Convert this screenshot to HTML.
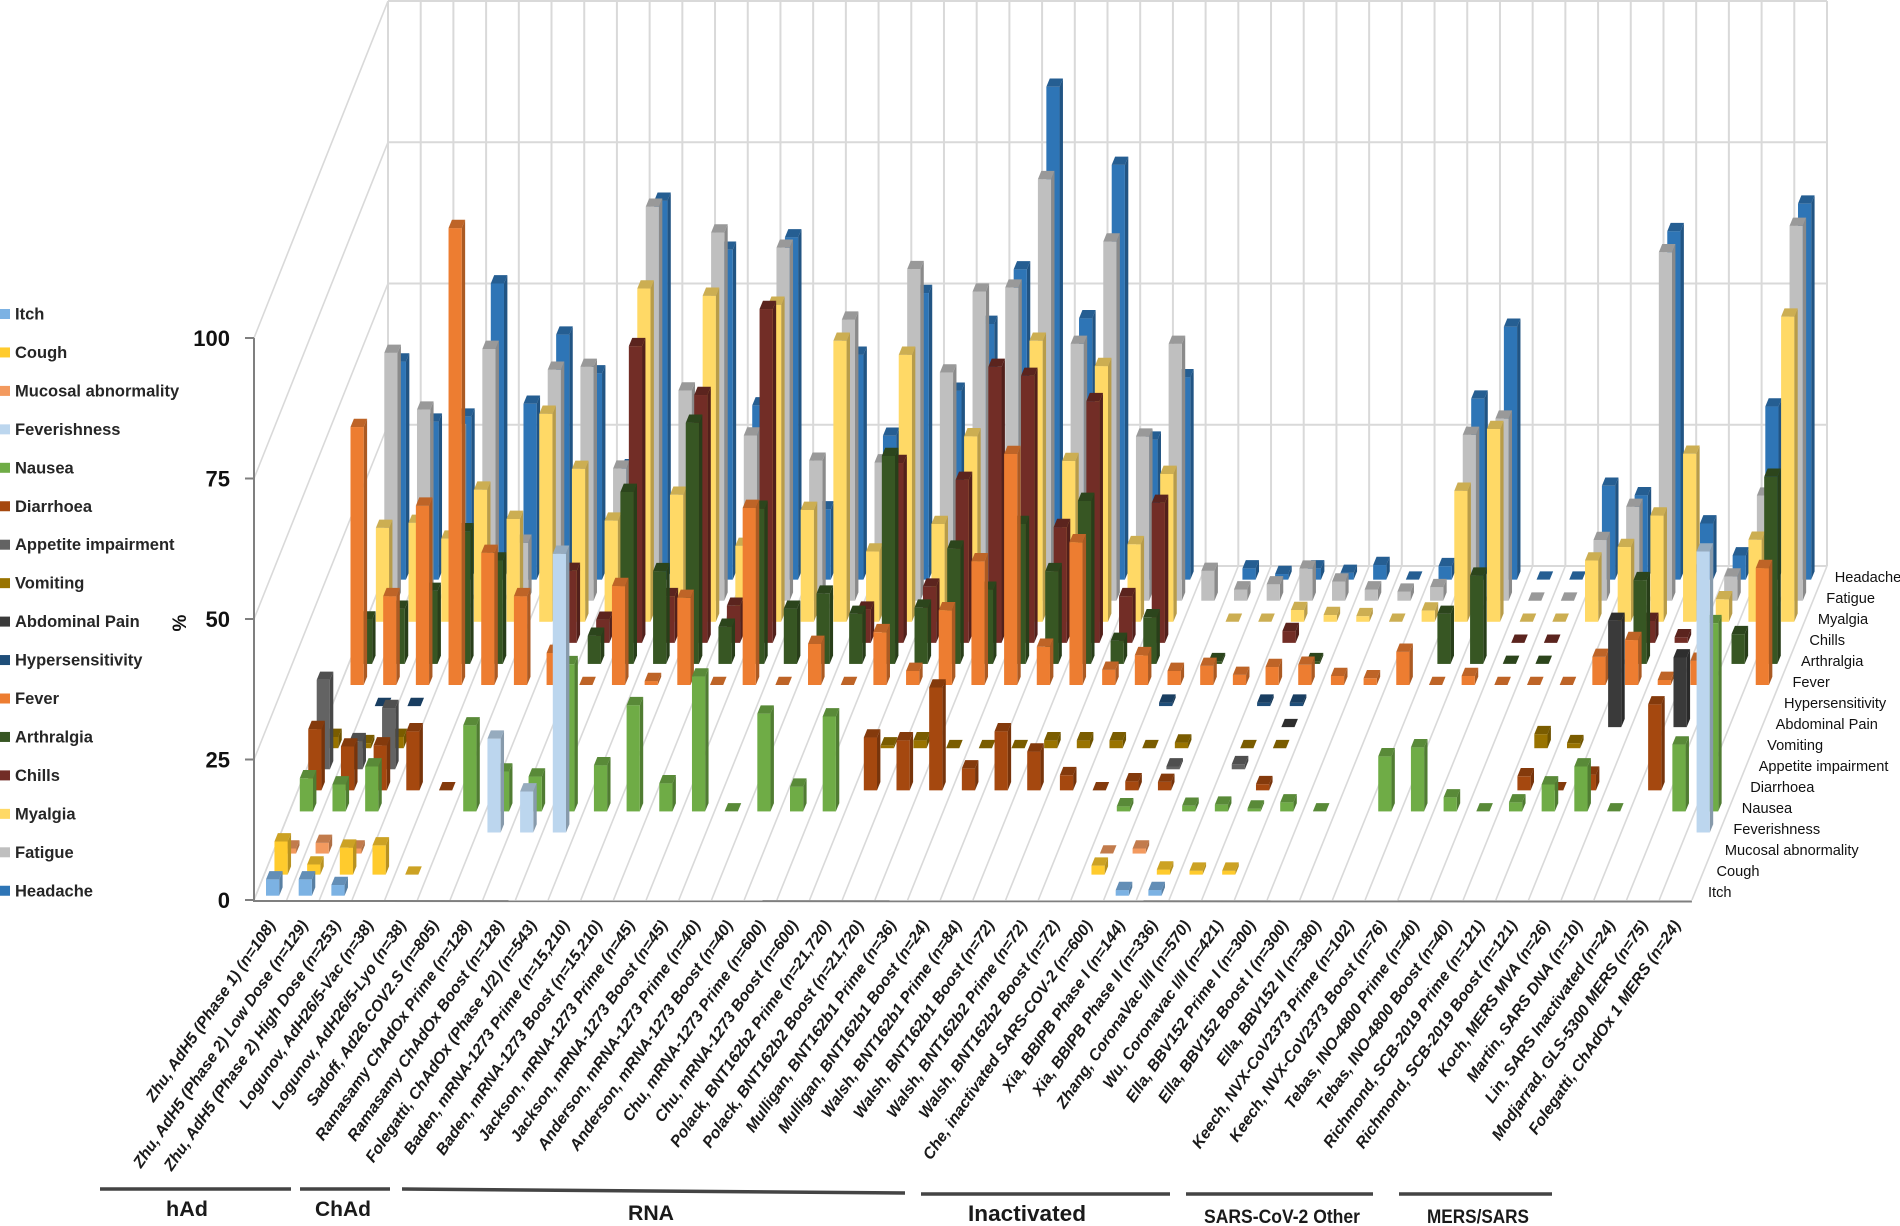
<!DOCTYPE html>
<html lang="en">
<head>
<meta charset="utf-8">
<title>Adverse events by vaccine study</title>
<style>
  html, body { margin: 0; padding: 0; background: #fff; width: 1900px; height: 1226px; overflow: hidden; }
  svg { display: block; font-family: "Liberation Sans", sans-serif; }
  .legend-text { font-size: 16.5px; font-weight: 700; fill: #262626; }
  .y-tick { font-size: 22px; font-weight: 700; fill: #111; text-anchor: end; }
  .depth-label { font-size: 14.6px; fill: #111; }
  .x-label { font-size: 16px; font-weight: 700; font-style: italic; fill: #1a1a1a; text-anchor: end; }
  .group-label { font-weight: 700; fill: #1a1a1a; text-anchor: middle; }
</style>
</head>
<body>
<svg id="chart" width="1900" height="1226" viewBox="0 0 1900 1226" xmlns="http://www.w3.org/2000/svg">
  <g id="walls"></g>
  <g id="bars"></g>
  <g id="axes"></g>
  <g id="legend"></g>
  <text transform="translate(186,623) rotate(-90)" text-anchor="middle" font-size="19" font-weight="700" fill="#111">%</text>

  <g>
    <line x1="100" y1="1189" x2="291" y2="1189" stroke="#444" stroke-width="3.5"/>
    <line x1="300" y1="1189" x2="390" y2="1189" stroke="#444" stroke-width="3.5"/>
    <line x1="402" y1="1189" x2="905" y2="1193" stroke="#444" stroke-width="3.5"/>
    <line x1="921" y1="1194" x2="1170" y2="1194" stroke="#444" stroke-width="3.5"/>
    <line x1="1186" y1="1194" x2="1373" y2="1194" stroke="#444" stroke-width="3.5"/>
    <line x1="1399" y1="1194" x2="1552" y2="1194" stroke="#444" stroke-width="3.5"/>
    <text class="group-label" x="187" y="1216" font-size="21" textLength="42" lengthAdjust="spacingAndGlyphs">hAd</text>
    <text class="group-label" x="343" y="1216" font-size="21" textLength="56" lengthAdjust="spacingAndGlyphs">ChAd</text>
    <text class="group-label" x="651" y="1220" font-size="21" textLength="46" lengthAdjust="spacingAndGlyphs">RNA</text>
    <text class="group-label" x="1027" y="1221" font-size="22" textLength="118" lengthAdjust="spacingAndGlyphs">Inactivated</text>
    <text class="group-label" x="1282" y="1223" font-size="19" textLength="156" lengthAdjust="spacingAndGlyphs">SARS-CoV-2 Other</text>
    <text class="group-label" x="1478" y="1223" font-size="19" textLength="102" lengthAdjust="spacingAndGlyphs">MERS/SARS</text>
  </g>
</svg>

<script>
const studies = [
  "Zhu, AdH5 (Phase 1) (n=108)","Zhu, AdH5 (Phase 2) Low Dose (n=129)","Zhu, AdH5 (Phase 2) High Dose (n=253)",
  "Logunov, AdH26/5-Vac (n=38)","Logunov, AdH26/5-Lyo (n=38)","Sadoff, Ad26.COV2.S (n=805)",
  "Ramasamy ChAdOx Prime (n=128)","Ramasamy ChAdOx Boost (n=128)","Folegatti, ChAdOx (Phase 1/2) (n=543)",
  "Baden, mRNA-1273 Prime (n=15,210)","Baden, mRNA-1273 Boost (n=15,210)","Jackson, mRNA-1273 Prime (n=45)",
  "Jackson, mRNA-1273 Boost (n=45)","Anderson, mRNA-1273 Prime (n=40)","Anderson, mRNA-1273 Boost (n=40)",
  "Chu, mRNA-1273 Prime (n=600)","Chu, mRNA-1273 Boost (n=600)","Polack, BNT162b2 Prime (n=21,720)",
  "Polack, BNT162b2 Boost (n=21,720)","Mulligan, BNT162b1 Prime (n=36)","Mulligan, BNT162b1 Boost (n=24)",
  "Walsh, BNT162b1 Prime (n=84)","Walsh, BNT162b1 Boost (n=72)","Walsh, BNT162b2 Prime (n=72)",
  "Walsh, BNT162b2 Boost (n=72)","Che, inactivated SARS-COV-2 (n=600)","Xia, BBIPB Phase I (n=144)",
  "Xia, BBIPB Phase II (n=336)","Zhang, CoronaVac I/II (n=570)","Wu, Coronavac I/II (n=421)",
  "Ella, BBV152 Prime I (n=300)","Ella, BBV152 Boost I (n=300)","Ella, BBV152 II (n=380)",
  "Keech, NVX-CoV2373 Prime (n=102)","Keech, NVX-CoV2373 Boost (n=76)","Tebas, INO-4800 Prime (n=40)",
  "Tebas, INO-4800 Boost (n=40)","Richmond, SCB-2019 Prime (n=121)","Richmond, SCB-2019 Boost (n=121)",
  "Koch, MERS MVA (n=26)","Martin, SARS DNA (n=10)","Lin, SARS Inactivated (n=24)",
  "Modjarrad, GLS-5300 MERS  (n=75)","Folegatti, ChAdOx 1 MERS (n=24)"
];
const seriesNames = ["Itch","Cough","Mucosal abnormality","Feverishness","Nausea","Diarrhoea","Appetite impairment","Vomiting","Abdominal Pain","Hypersensitivity","Fever","Arthralgia","Chills","Myalgia","Fatigue","Headache"];
const seriesColors = ["#7cb2e3","#ffcb2d","#f39a5f","#bcd6ee","#6fac46","#a5480f","#636363","#997300","#3a3a3a","#1f4e79","#ed7d31","#375623","#722d26","#ffd966","#bfbfbf","#2e75b6"];
const yTicks = [0,25,50,75,100];

const itch = [2.9,2.9,1.9,null,null,null,null,null,null,null,null,null,null,null,null,null,null,null,null,null,null,null,null,null,null,null,1,1,null,null,null,null,null,null,null,null,null,null,null,null,null,null,null,null];
const cough = [5.9,1.8,4.8,5.2,0,null,null,null,null,null,null,null,null,null,null,null,null,null,null,null,null,null,null,null,null,1.6,null,0.9,0.7,0.7,null,null,null,null,null,null,null,null,null,null,null,null,null,null];
const mucosal = [0.9,1.9,0.9,null,null,null,null,null,null,null,null,null,null,null,null,null,null,null,null,null,null,null,null,null,null,0,0.9,null,null,null,null,null,null,null,null,null,null,null,null,null,null,null,null,null];
const feverishness = [null,null,null,null,null,null,16.7,7.3,49.6,null,null,null,null,null,null,null,null,null,null,null,null,null,null,null,null,null,null,null,null,null,null,null,null,null,null,null,null,null,null,null,null,null,null,50];
const nausea = [5.9,4.8,8,null,null,15.3,7.1,6.2,26.2,8.2,18.9,5,24,0,17.4,4.4,16.9,null,null,null,null,null,null,null,null,0.9,null,1,1.2,0.5,1.6,0,null,9.8,11.4,2.5,0,1.6,4.8,8,0,null,11.9,33.5];
const diarrhoea = [10.9,7.8,8,10.5,0,null,null,null,null,null,null,null,null,null,null,null,null,9.4,8.9,18.3,3.9,10.5,6.9,2.7,0,1.6,1.5,null,null,1.1,null,null,null,null,null,null,null,2.5,0,2.8,null,15.3,null,null];
const appetite = [15.9,5,10.9,null,null,null,null,null,null,null,null,null,null,null,null,null,null,null,null,null,null,null,null,null,null,null,0.5,null,0.9,null,null,null,null,null,null,null,null,null,null,null,null,null,null,null];
const vomiting = [2,0.9,2,null,null,null,null,null,null,null,null,null,null,null,null,null,null,0.5,1.4,0,0,0,1.4,1.4,1.4,0,1,null,0,0,null,null,null,null,null,null,null,2.5,0.9,null,null,null,null,null];
const abdominalPain = [null,null,null,null,null,null,null,null,null,null,null,null,null,null,null,null,null,null,null,null,null,null,null,null,null,null,null,null,null,0,null,null,null,null,null,null,null,null,null,18.9,null,12.4,null,null];
const hypersensitivity = [null,0,0,null,null,null,null,null,null,null,null,null,null,null,null,null,null,null,null,null,null,null,null,null,null,0.6,null,null,0.6,0.6,null,null,null,null,null,null,null,null,null,null,null,null,null,null];
const fever = [45.9,15.8,31.9,81.3,23.5,15.8,5.7,0,17.6,0.7,15.5,0,31.5,0,7.3,0,9.4,2.5,13.3,22,41.1,6.8,25.4,2.7,5.3,2.5,3.4,1.8,3.2,3.6,1.6,1.2,5.9,0,1.6,0,0,0,5,8,0.9,4.3,null,20.8];
const arthralgia = [7.9,9.8,13,23.6,18.4,null,null,5,30.6,16.5,42.9,6.6,27.6,9.8,12.5,8.9,37,10,20.5,13.2,24.9,16.5,29,4.1,8.3,null,0.5,null,null,0.5,null,null,null,8.9,15.7,0,0,null,null,14.9,null,null,5.3,33.3];
const chills = [null,null,null,null,null,null,12.8,4.1,52.8,8.3,44.1,6.6,59.4,null,null,5.9,32,10,29,49.1,47.5,20.6,43,8.3,24.9,null,null,null,2.1,null,null,null,null,null,null,0,0,null,null,3.9,1,null,null,null];
const myalgia = [16.7,17.6,14.8,23.5,18.3,37,27.2,18,59.3,22.6,58,13.5,56.4,19.9,50,12.5,47.5,17.4,33,25,50,28.6,45.5,13.8,26.3,null,0,0,2.1,1.2,1,0,2,23.3,34.3,0,0,10.9,13.3,18.9,29.9,4,14.6,54.3];
const fatigue = [44.1,34,30,44.8,10.3,41.1,41.6,23.5,70.1,37.4,65.5,29.4,62.8,24.9,50,24.6,59,40.6,55,55.7,75,45.7,63.9,29.2,45.7,5.3,2,2.9,5.7,3.4,2,1.6,2.4,29.5,32.4,0,0,10.8,16.7,62,5,4.3,18.7,66.7];
const headache = [38.8,28.1,29,52.7,31.3,43.6,36.7,20,67.4,25,58.7,31,60.9,12.5,40,25.6,51,33.6,45.5,55.2,87.7,46.5,73.8,24.9,36,null,2,1,2,1.2,2.6,0,2.4,32.2,45,0,0,16.7,15,62,10,4.3,30.8,66.9];

const seriesValues = [itch,cough,mucosal,feverishness,nausea,diarrhoea,appetite,vomiting,abdominalPain,hypersensitivity,fever,arthralgia,chills,myalgia,fatigue,headache];

const SVGNS = "http://www.w3.org/2000/svg";

/* axis functions for the oblique projection */
function xAt(cat, row) { return 266 + 32.68 * cat + 8.45 * row; }
function baseY(row) { return 895.7 - 21.07 * row; }
function heightOf(v) { return v * 5.62; }
function frontAxisY(v) { return 900 - v * 5.62; }
function wallY(v) { return 566 - v * 5.65; }

const BAR_W = 13.2, DEPTH_X = 3.4, DEPTH_Y = 8.3;
const FRONT_X0 = 254, WALL_X0 = 388, WALL_X1 = 1827, CAT_STEP = 32.68;

function shade(hex, f) {
  const n = parseInt(hex.slice(1), 16);
  const r = Math.round(((n >> 16) & 255) * f), g = Math.round(((n >> 8) & 255) * f), b = Math.round((n & 255) * f);
  return "rgb(" + r + "," + g + "," + b + ")";
}
function make(tag, attrs, parent) {
  const el = document.createElementNS(SVGNS, tag);
  for (const k in attrs) el.setAttribute(k, attrs[k]);
  parent.appendChild(el);
  return el;
}

const walls = document.getElementById("walls");
const barsG = document.getElementById("bars");
const axesG = document.getElementById("axes");
const legendG = document.getElementById("legend");
const GRID = "#d9d9d9";

/* back wall vertical lines and floor diagonals */
for (let c = 0; c <= studies.length; c++) {
  const wx = WALL_X0 + (WALL_X1 - WALL_X0) * c / studies.length;
  const fx = FRONT_X0 + CAT_STEP * c;
  const v = make("line", {x1: wx, y1: wallY(100), x2: wx, y2: wallY(0), stroke: GRID, "stroke-width": 2}, walls);
  
  
  const d = make("line", {x1: fx, y1: frontAxisY(0), x2: wx, y2: wallY(0), stroke: GRID, "stroke-width": 1.6}, walls);
  
  
}
/* horizontal wall lines, side wall diagonals, y ticks */
yTicks.forEach(function (t) {
  const h = make("line", {x1: WALL_X0, y1: wallY(t), x2: WALL_X1, y2: wallY(t), stroke: GRID, "stroke-width": 2}, walls);
  
  
  const s = make("line", {x1: FRONT_X0, y1: frontAxisY(t), x2: WALL_X0, y2: wallY(t), stroke: GRID, "stroke-width": 1.6}, walls);
  
  
  const tick = make("line", {x1: FRONT_X0 - 9, y1: frontAxisY(t), x2: FRONT_X0, y2: frontAxisY(t), stroke: "#7f7f7f", "stroke-width": 2}, axesG);
  
  
  const lab = make("text", {class: "y-tick", x: 230, y: frontAxisY(t) + 8}, axesG);
  lab.textContent = String(t);
  
  
});
const yAxis = make("line", {x1: FRONT_X0, y1: frontAxisY(100), x2: FRONT_X0, y2: frontAxisY(0) + 1, stroke: "#7f7f7f", "stroke-width": 2}, axesG);


const xAxis = make("line", {x1: FRONT_X0 - 1, y1: frontAxisY(0) + 1, x2: FRONT_X0 + CAT_STEP * studies.length, y2: frontAxisY(0) + 1.5, stroke: "#7f7f7f", "stroke-width": 2}, axesG);



/* bars: back row first so front rows overlap */
for (let r = seriesValues.length - 1; r >= 0; r--) {
  const vals = seriesValues[r];
  const col = seriesColors[r];
  for (let c = studies.length - 1; c >= 0; c--) {
    const v = vals[c];
    if (v === null || v === undefined) continue;
    const x = xAt(c, r), yb = baseY(r), h = heightOf(v), yt = yb - h;
    const g = make("g", {}, barsG);
    
    
    g.setAttribute('data-series', seriesNames[r]);
    g.setAttribute('data-study', studies[c]);
    make("polygon", {points: [x + BAR_W, yb, x + BAR_W + DEPTH_X, yb - DEPTH_Y, x + BAR_W + DEPTH_X, yt - DEPTH_Y, x + BAR_W, yt].join(" "), fill: shade(col, 0.72)}, g);
    make("rect", {x: x, y: yt, width: BAR_W, height: h, fill: col}, g);
    make("polygon", {points: [x, yt, x + BAR_W, yt, x + BAR_W + DEPTH_X, yt - DEPTH_Y, x + DEPTH_X, yt - DEPTH_Y].join(" "), fill: shade(col, 0.8)}, g);
  }
}

/* x labels */
studies.forEach(function (name, c) {
  const t = make("text", {class: "x-label", transform: "translate(" + (276 + CAT_STEP * c) + ",925) rotate(-55.5)"}, axesG);
  t.textContent = name;
  
  
});

/* depth labels and legend */
seriesNames.forEach(function (name, r) {
  const d = make("text", {class: "depth-label", x: 1708 + 8.45 * r, y: 897 - 21 * r}, axesG);
  d.textContent = name;
  
  
  const ly = 314 + 38.45 * r;
  const sw = make("rect", {x: 0, y: ly - 5, width: 10, height: 10, fill: seriesColors[r]}, legendG);
  
  
  const lt = make("text", {class: "legend-text", x: 15, y: ly + 5.5}, legendG);
  lt.textContent = name;
  
  
});
</script>
</body>
</html>
